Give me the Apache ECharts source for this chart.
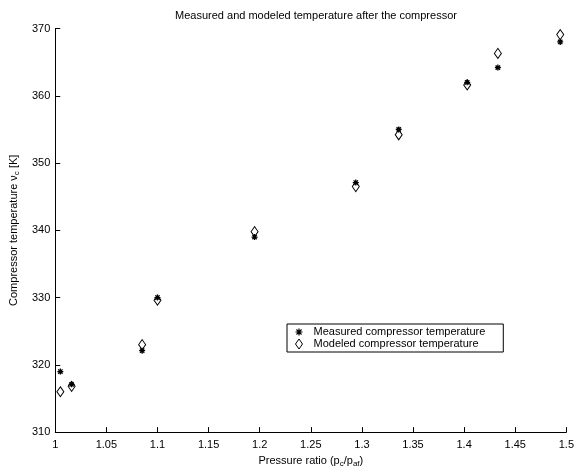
<!DOCTYPE html>
<html><head><meta charset="utf-8">
<script src="https://cdn.jsdelivr.net/npm/echarts@6/dist/echarts.min.js"></script>
<style>html,body{margin:0;padding:0;background:#fff}#c{width:577px;height:473px}</style>
</head><body><div id="c"></div>
<script>
var pressureRatio = [1.005, 1.016, 1.085, 1.1, 1.195, 1.294, 1.336, 1.403, 1.433, 1.494];
var measuredTemp = [319, 317.1, 322.1, 330, 339, 347.1, 355, 362, 364.2, 368];
var modeledTemp = [316, 316.8, 323, 329.6, 339.8, 346.5, 354.2, 361.6, 366.3, 369.1];
var seriesNames = ['Measured compressor temperature', 'Modeled compressor temperature'];

var FONT = 'Liberation Sans, Arial, sans-serif';
function pairs(xs, ys){ return xs.map(function(x,i){ return [x, ys[i]]; }); }
var starPath = 'path://M0,-4L0,4M-4,0L4,0M-2.9,-2.9L2.9,2.9M-2.9,2.9L2.9,-2.9';

var chart = echarts.init(document.getElementById('c'), null, {renderer:'canvas'});
chart.setOption({
  animation: false,
  backgroundColor: '#fff',
  textStyle: {fontFamily: FONT},
  title: {
    text: 'Measured and modeled temperature after the compressor',
    left: 311, top: 5, textAlign: 'center',
    textStyle: {fontFamily: FONT, fontSize: 11, fontWeight: 'normal', color: '#000'}
  },
  grid: {left: 49, right: 5, top: 28.5, bottom: 34.7, containLabel: false},
  legend: {
    orient: 'vertical', left: 287, top: 324,
    padding: [2, 18, 2, 6], itemGap: 0, itemWidth: 7, itemHeight: 10,
    borderColor: '#000', borderWidth: 1, backgroundColor: '#fff',
    textStyle: {fontFamily: FONT, fontSize: 11, color: '#000', lineHeight: 12, padding: [0,0,0,6]},
    data: [
      {name: seriesNames[0], icon: starPath, itemStyle: {color: 'none', borderColor: '#000', borderWidth: 1.2}},
      {name: seriesNames[1], icon: 'diamond', itemStyle: {color: 'rgba(0,0,0,0)', borderColor: '#000', borderWidth: 1}}
    ]
  },
  xAxis: {
    type: 'value', min: 1, max: 1.5, interval: 0.05,
    name: 'Pressure ratio (p{sub|c}/p{sub|af})',
    nameLocation: 'middle', nameGap: 20,
    nameTextStyle: {fontFamily: FONT, fontSize: 11, color: '#000',
      rich: {sub: {fontFamily: FONT, fontSize: 8, color: '#000', padding: [7,0,0,0]}}},
    axisLine: {lineStyle: {color: '#000', width: 1}},
    axisTick: {inside: true, length: 5, lineStyle: {color: '#000'}},
    axisLabel: {fontFamily: FONT, fontSize: 11, color: '#000', margin: 7, showMaxLabel: true, showMinLabel: true,
      formatter: function(v){ return String(+v.toFixed(2)); }},
    splitLine: {show: false}
  },
  yAxis: {
    type: 'value', min: 310, max: 370, interval: 10,
    name: 'Compressor temperature ν{sub|c} [K]',
    nameLocation: 'middle', nameGap: 25,
    nameTextStyle: {fontFamily: FONT, fontSize: 11, color: '#000',
      rich: {sub: {fontFamily: FONT, fontSize: 8, color: '#000', padding: [7,0,0,0]}}},
    axisLine: {show: true, lineStyle: {color: '#000', width: 1}},
    axisTick: {show: true, inside: true, length: 5, lineStyle: {color: '#000'}},
    axisLabel: {fontFamily: FONT, fontSize: 11, color: '#000', margin: 5},
    splitLine: {show: false}
  },
  series: [
    {
      name: seriesNames[0], type: 'scatter', data: pairs(pressureRatio, measuredTemp),
      symbol: starPath, symbolSize: 6,
      itemStyle: {color: 'none', borderColor: '#000', borderWidth: 1.3, opacity: 1},
      z: 2
    },
    {
      name: seriesNames[1], type: 'scatter', data: pairs(pressureRatio, modeledTemp),
      symbol: 'diamond', symbolSize: [7, 10],
      itemStyle: {color: 'rgba(0,0,0,0)', borderColor: '#000', borderWidth: 1, opacity: 1},
      z: 3
    }
  ]
});
</script>
</body></html>
